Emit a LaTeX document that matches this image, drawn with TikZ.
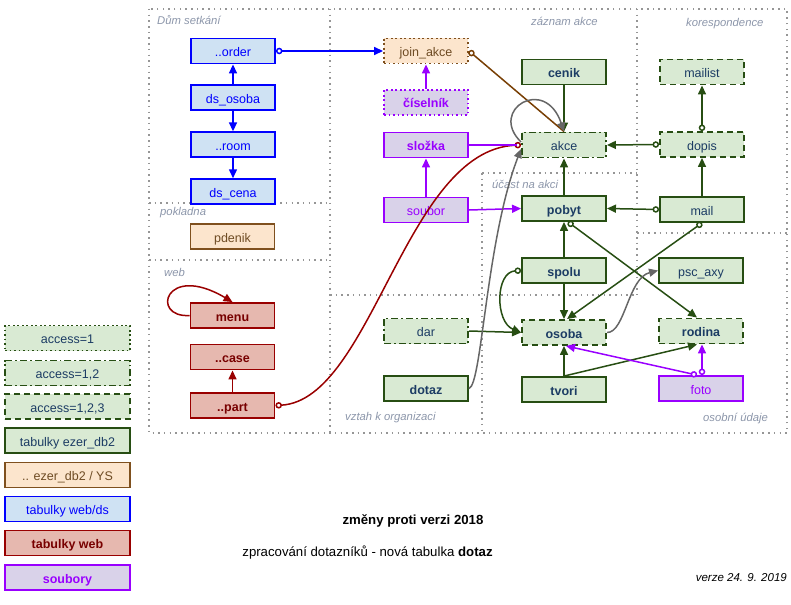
\documentclass[tikz,border=0pt]{standalone}
\usepackage{fontspec}
\setmainfont{Liberation Sans}
\usepackage{tikz}
\usetikzlibrary{arrows.meta, positioning}
\definecolor{ezergreen}{RGB}{39,78,19}
\definecolor{ezerfill}{RGB}{217,234,211}
\definecolor{ezertext}{RGB}{28,60,100}
\definecolor{ysbrown}{RGB}{127,80,30}
\definecolor{ysfill}{RGB}{252,229,205}
\definecolor{ystext}{RGB}{110,75,35}
\definecolor{webblue}{RGB}{0,0,255}
\definecolor{webfill}{RGB}{207,226,243}
\definecolor{webred}{RGB}{153,0,0}
\definecolor{webredfill}{RGB}{230,184,175}
\definecolor{webredtext}{RGB}{120,0,0}
\definecolor{soubpurple}{RGB}{153,0,255}
\definecolor{soubfill}{RGB}{217,210,233}
\definecolor{linkbrown}{RGB}{120,63,4}
\definecolor{linkgray}{RGB}{102,102,102}
\definecolor{areagray}{RGB}{150,150,150}
\definecolor{areatext}{RGB}{140,150,170}

\begin{document}
\begin{tikzpicture}[
  x=1pt, y=-1pt,
  tbl/.style={draw, line width=1.9pt, minimum width=84pt,
    minimum height=25pt, inner sep=0pt, text height=11pt, text depth=0pt,
    font=\fontsize{12.5}{14}\selectfont},
  bold/.style={font=\fontsize{12.5}{14}\selectfont\bfseries},
  legend/.style={minimum width=125pt},
  ezer/.style={tbl, draw=ezergreen, fill=ezerfill, text=ezertext},
  ys/.style={tbl, draw=ysbrown, fill=ysfill, text=ystext},
  webds/.style={tbl, draw=webblue, fill=webfill, text=webblue},
  webtab/.style={tbl, draw=webred, fill=webredfill, text=webredtext},
  soub/.style={tbl, draw=soubpurple, fill=soubfill, text=soubpurple},
  acc1/.style={dash pattern=on 1.9pt off 2.6pt},
  acc12/.style={dash pattern=on 7pt off 3pt on 1.9pt off 3pt},
  acc123/.style={dash pattern=on 6pt off 4pt},
  area/.style={draw=areagray, line width=1.5pt,
    dash pattern=on 1.5pt off 4.2pt},
  arealabel/.style={font=\fontsize{11.3}{13}\selectfont\itshape,
    text=areatext, inner sep=0pt, anchor=west},
  rel/.style={line width=1.5pt, -{Triangle[length=9pt,width=8pt]}},
  orel/.style={line width=1.5pt,
    {Circle[length=6.5pt,width=6.5pt,fill=white]}-{Triangle[length=9pt,width=8pt]}},
  oline/.style={line width=1.5pt, {Circle[length=6.5pt,width=6.5pt,fill=white]}-},
  ooline/.style={line width=1.5pt,
    {Circle[length=6.5pt,width=6.5pt,fill=white]}-{Circle[length=6.5pt,width=6.5pt,fill=white]}},
  note/.style={font=\fontsize{13.2}{15}\selectfont, inner sep=0pt}
]
\useasboundingbox (0,0) rectangle (791,604);

% oblasti
\draw[area] (149,9) rectangle (787,433);
\draw[area] (330,9) -- (330,433);
\draw[area] (149,203) -- (330,203);
\draw[area] (149,260) -- (330,260);
\draw[area] (637,9) -- (637,295);
\draw[area] (637,233) -- (787,233);
\draw[area] (330,295) -- (637,295);
\draw[area] (482,173) -- (637,173);
\draw[area] (482,173) -- (482,433);

\node[arealabel] (lbldum) at (157,20) {Dům setkání};
\node[arealabel] (lblzaznam) at (531,21) {záznam akce};
\node[arealabel] (lblkoresp) at (686,24) {korespondence};
\node[arealabel] (lblpokl) at (160,213) {pokladna};
\node[arealabel] (lblweb) at (164,272) {web};
\node[arealabel] (lblucast) at (492,184) {účast na akci};
\node[arealabel] (lblvztah) at (345,418) {vztah k organizaci};
\node[arealabel] (lblosobni) at (703,419) {osobní údaje};

% Dum setkani
\node[webds] (order) at (233,51) {..order};
\node[webds, below=20pt of order] (dsosoba) {ds\_osoba};
\node[webds, below=20pt of dsosoba] (room) {..room};
\node[webds, below=20pt of room] (dscena) {ds\_cena};

\node[ys] (pdenik) at (232.5,236.5) {pdenik};

% web
\node[webtab, bold] (menu) at (232.5,315.5) {menu};
\node[webtab, bold] (case) at (232.5,357) {..case};
\node[webtab, bold] (part) at (232.5,405.5) {..part};

% zaznam akce
\node[ys, acc1] (join) at (426,51) {join\_akce};
\node[soub, acc1, bold] (ciselnik) at (426,102.5) {číselník};
\node[soub, bold] (slozka) at (426,145) {složka};
\node[soub] (soubor) at (426,210) {soubor};
\node[ezer, bold] (cenik) at (564,72) {cenik};
\node[ezer, acc12] (akce) at (564,145) {akce};

% korespondence
\node[ezer, acc123] (mailist) at (702,72) {mailist};
\node[ezer, acc123] (dopis) at (702,144.5) {dopis};
\node[ezer] (mail) at (702,209.5) {mail};

% ucast na akci
\node[ezer, bold] (pobyt) at (564,208.5) {pobyt};
\node[ezer, bold] (spolu) at (564,270.5) {spolu};

% vztah k organizaci, osobni udaje
\node[ezer, acc12] (dar) at (426,331) {dar};
\node[ezer, bold] (dotaz) at (426,388.5) {dotaz};
\node[ezer, acc123, bold] (osoba) at (564,332.5) {osoba};
\node[ezer, bold] (tvori) at (564,389.5) {tvori};
\node[ezer] (psc) at (701,270.5) {psc\_axy};
\node[ezer, acc123, bold] (rodina) at (701,331) {rodina};
\node[soub] (foto) at (701,388.5) {foto};

% legenda
\node[ezer, legend, acc1] (leg1) at (67.5,338) {access=1};
\node[ezer, legend, acc12] (leg2) at (67.5,373) {access=1,2};
\node[ezer, legend, acc123] (leg3) at (67.5,406.5) {access=1,2,3};
\node[ezer, legend] (leg4) at (67.5,440.5) {tabulky ezer\_db2};
\node[ys, legend] (leg5) at (67.5,475) {.. ezer\_db2 / YS};
\node[webds, legend] (leg6) at (67.5,509) {tabulky web/ds};
\node[webtab, legend, bold] (leg7) at (67.5,543) {tabulky web};
\node[soub, legend, bold] (leg8) at (67.5,577.5) {soubory};

% vazby
\draw[orel, webblue] (order.east) -- (join.west);
\draw[rel, webblue] (dsosoba.north) -- (order.south);
\draw[rel, webblue] (dsosoba.south) -- (room.north);
\draw[rel, webblue] (room.south) -- (dscena.north);

\draw[rel, webred] (menu.west) .. controls (150,318) and (165,262) .. (menu.north);
\draw[rel, webred] (part.north) -- (case.south);
\draw[ooline, webred] (part.east) .. controls (372,400) and (405,150) .. (akce.west);

\draw[rel, soubpurple] (ciselnik.north) -- (join.south);
\draw[rel, soubpurple] (soubor.north) -- (slozka.south);
\draw[rel, soubpurple] (soubor.east) -- (pobyt.west);
\draw[line width=1.5pt, soubpurple] (slozka.east) -- ([xshift=-4pt]akce.west);
\draw[oline, linkbrown] (join.east) -- (akce.north);

\draw[rel, ezergreen] (cenik.south) -- (akce.north);
\draw[orel, ezergreen] (dopis.west) -- (akce.east);
\draw[orel, ezergreen] (dopis.north) -- (mailist.south);
\draw[rel, ezergreen] (mail.north) -- (dopis.south);
\draw[orel, ezergreen] (mail.west) -- (pobyt.east);
\draw[orel, ezergreen] (mail.south) -- ([xshift=3pt]osoba.north);
\draw[rel, ezergreen] (pobyt.north) -- (akce.south);
\draw[rel, ezergreen] (spolu.north) -- (pobyt.south);
\draw[orel, ezergreen] ([xshift=4pt]pobyt.south) -- ([xshift=-4pt]rodina.north);
\draw[rel, ezergreen] (spolu.south) -- (osoba.north);
\draw[orel, ezergreen] (spolu.west) .. controls (495,272) and (495,322) .. (osoba.west);
\draw[rel, ezergreen] (dar.east) -- (osoba.west);
\draw[rel, ezergreen] (tvori.north) -- (osoba.south);
\draw[rel, ezergreen] (tvori.north) -- ([xshift=-4pt]rodina.south);

\draw[rel, linkgray] ([yshift=3pt]akce.west) .. controls (488,110) and (545,75) .. (akce.north);
\draw[rel, linkgray] (dotaz.east) .. controls (482,385) and (486,240) .. ([yshift=-4pt]akce.west);
\draw[rel, linkgray] (osoba.east) .. controls (625,333) and (628,278) .. (psc.west);

\draw[orel, soubpurple] ([xshift=-4pt]foto.north) -- ([xshift=2pt]osoba.south);
\draw[orel, soubpurple] ([xshift=1pt]foto.north) -- ([xshift=1pt]rodina.south);

% poznamky
\node[note, font=\fontsize{13.2}{15}\selectfont\bfseries] (zmeny) at (413,521) {změny proti verzi 2018};
\node[note] (zprac) at (367.5,553) {zpracování dotazníků - nová tabulka \textbf{dotaz}};
\node[note, anchor=east, font=\fontsize{11.5}{13}\selectfont\itshape] (verze) at (787,578) {verze 24. 9. 2019};
\end{tikzpicture}
\end{document}
